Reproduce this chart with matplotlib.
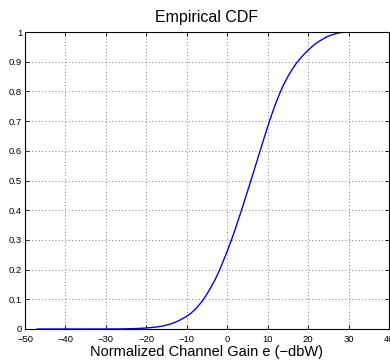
import matplotlib
matplotlib.use("Agg")
import matplotlib.pyplot as plt

# Channel gain (dBW) and empirical CDF values
gain = [-47, -35, -30, -28, -26, -24, -22, -20, -19, -18, -17, -16, -15, -14, -13, -12,
        -11, -10, -9, -8, -7, -6, -5, -4, -3, -2, -1, 0, 1, 2, 3, 4, 5, 6, 7, 8, 9,
        10, 11, 12, 13, 14, 15, 16, 17, 18, 19, 20, 21, 22, 23, 24, 25, 26, 27, 28,
        29, 30, 35]
cdf = [0.0, 0.0, 0.0001, 0.0002, 0.0004, 0.0009, 0.0018, 0.0035, 0.0047, 0.006, 0.0078,
       0.010, 0.013, 0.017, 0.022, 0.028, 0.035, 0.043, 0.053, 0.065, 0.080, 0.097,
       0.118, 0.141, 0.166, 0.195, 0.228, 0.262, 0.298, 0.337, 0.378, 0.420, 0.463,
       0.506, 0.550, 0.594, 0.638, 0.681, 0.722, 0.760, 0.794, 0.824, 0.850, 0.873,
       0.893, 0.910, 0.925, 0.939, 0.951, 0.962, 0.971, 0.979, 0.986, 0.991, 0.995,
       0.998, 0.9995, 1.0, 1.0]

xticks = [-50, -40, -30, -20, -10, 0, 10, 20, 30, 40]
yticks = [0, 0.1, 0.2, 0.3, 0.4, 0.5, 0.6, 0.7, 0.8, 0.9, 1]
ytick_labels = ["0", "0.1", "0.2", "0.3", "0.4", "0.5", "0.6", "0.7", "0.8", "0.9", "1"]

plt.rcParams['font.family'] = ['Liberation Sans', 'DejaVu Sans']

fig = plt.figure(figsize=(3.9, 3.6), dpi=100)
ax = fig.add_axes([25 / 390, 1 - 329 / 360, 364 / 390, 297 / 360])
ax.plot(gain, cdf, color=(0, 0, 1), linewidth=1.0)
ax.set_xlim(-50, 40)
ax.set_ylim(0, 1)
ax.set_xticks(xticks)
ax.set_xticklabels([str(t).replace('-', '\u2212') for t in xticks])
ax.set_yticks(yticks)
ax.set_yticklabels(ytick_labels)
ax.tick_params(direction='in', top=True, right=True, labelsize=6.8, length=3,
               width=0.6)
ax.tick_params(axis='x', pad=4)
ax.tick_params(axis='y', pad=2)
ax.grid(True, linestyle=(0, (1, 3)), color='#505050', linewidth=0.6)
for s in ax.spines.values():
    s.set_linewidth(0.8)
ax.set_title("Empirical CDF", fontsize=11.5, pad=7)
ax.set_xlabel("Normalized Channel Gain e (\u2212dbW)", fontsize=10.5, labelpad=1)
fig.savefig("out.png", dpi=100)
